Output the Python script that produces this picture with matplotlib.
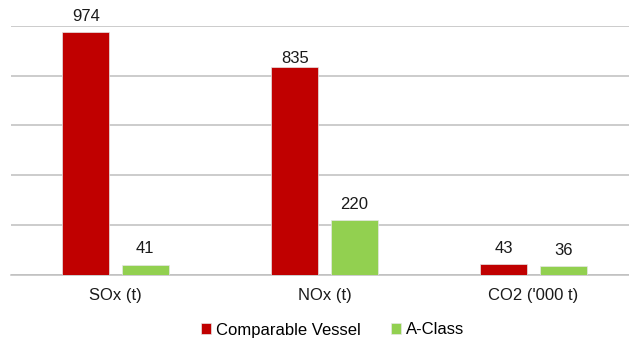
import matplotlib.pyplot as plt
import numpy as np

plt.rcParams['font.family'] = ['Liberation Sans', 'DejaVu Sans']

categories = ["SOx (t)", "NOx (t)", "CO2 ('000 t)"]
series_names = ["Comparable Vessel", "A-Class"]
comparable = [974, 835, 43]
a_class = [41, 220, 36]
colors = ['#C00000', '#92D050']
# label gap above each bar in points (the 835 label sits right on its bar)
label_pads = [[6, 0.5, 6], [6, 6, 6]]

fig = plt.figure(figsize=(6.29, 3.40), dpi=100)
ax = fig.add_axes([11 / 629, 65 / 340, 627 / 629, 249.3 / 340])

x = np.arange(len(categories))
w = 0.225
off = 0.142
for i, vals in enumerate([comparable, a_class]):
    pos = x - off if i == 0 else x + off
    ax.bar(pos, vals, w, color=colors[i], edgecolor='#E6E6E6', linewidth=0.5,
           label=series_names[i], zorder=3)
    for px, v, p in zip(pos, vals, label_pads[i]):
        ax.annotate(str(v), (px, v), xytext=(0, p), textcoords='offset points',
                    ha='center', va='bottom', fontsize=12, color='#1a1a1a',
                    annotation_clip=False)

ax.set_xlim(-0.5, 2.5)
ax.set_ylim(0, 1000)
ax.set_yticks(np.arange(0, 1001, 200))
ax.set_yticklabels([])
ax.yaxis.grid(True, color='#BFBFBF', linewidth=1.1, zorder=0)
ax.tick_params(axis='both', length=0)
ax.tick_params(axis='x', pad=9.5, labelsize=12, labelcolor='#1a1a1a')
ax.set_xticks(x)
ax.set_xticklabels(categories)
for s in ('top', 'left', 'right'):
    ax.spines[s].set_visible(False)
ax.spines['bottom'].set_color('#BFBFBF')
ax.spines['bottom'].set_linewidth(1.1)

fig.legend(loc='center', bbox_to_anchor=(333 / 629, 1 - 330 / 340), ncol=2,
           frameon=False, fontsize=12, handlelength=0.6, handleheight=0.6,
           handletextpad=0.3, columnspacing=1.8)

fig.savefig('out.png', dpi=100)
